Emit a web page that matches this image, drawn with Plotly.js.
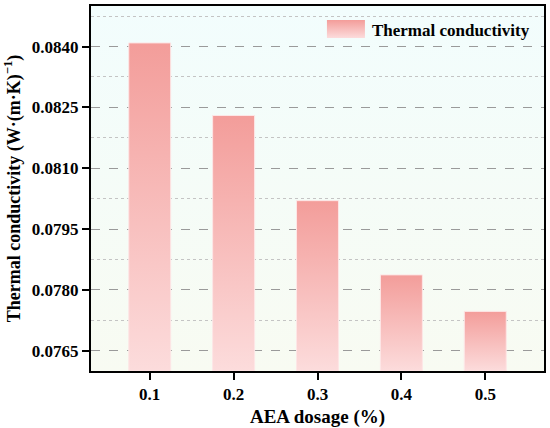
<!DOCTYPE html>
<html><head><meta charset="utf-8">
<script src="https://cdn.plot.ly/plotly-3.0.1.min.js"></script>
<style>body{margin:0;background:#fff}#chart{width:550px;height:428px}</style>
</head><body><div id="chart"></div>
<script>
// ---- data ----
const dosage = ['0.1', '0.2', '0.3', '0.4', '0.5'];
const conductivity = [0.08409, 0.08230, 0.08020, 0.07837, 0.07747];
const seriesName = 'Thermal conductivity';
const yMin = 0.0760, yMax = 0.0850;
const xTitle = 'AEA dosage (%)';
const yTitle = 'Thermal conductivity (W·(m·K)<sup>−1</sup>)';

const FONT = 'Liberation Serif, Times New Roman, serif';

const trace = {
  type: 'bar',
  x: dosage,
  y: conductivity.map(v => v - yMin),
  base: yMin,
  name: seriesName,
  width: 0.5,
  showlegend: true,
  hoverinfo: 'skip',
  marker: {color: '#f7b7b6', line: {color: '#fde6e6', width: 1}}
};

const layout = {
  width: 550, height: 428,
  margin: {l: 91, r: 6, t: 6, b: 57},
  paper_bgcolor: '#ffffff',
  plot_bgcolor: '#f6fcf8',
  font: {family: FONT, color: '#000', size: 17},
  showlegend: true,
  legend: {
    x: 0.980, y: 0.985, xanchor: 'right', yanchor: 'top',
    bgcolor: 'rgba(0,0,0,0)', borderwidth: 0,
    font: {family: FONT, size: 17, weight: 'bold', color: '#000'},
    itemwidth: 40
  },
  xaxis: {
    type: 'category',
    range: [-0.7, 4.7],
    showline: true, linecolor: '#000', linewidth: 2, mirror: true,
    ticks: 'outside', ticklen: 7, tickwidth: 2, tickcolor: '#000',
    showgrid: false, zeroline: false,
    tickfont: {family: FONT, size: 17, weight: 'bold'},
    title: {text: xTitle, font: {family: FONT, size: 19, weight: 'bold'}, standoff: 9}
  },
  yaxis: {
    range: [yMin, yMax],
    tick0: 0.0765, dtick: 0.0015, tickformat: '.4f',
    showline: true, linecolor: '#000', linewidth: 2, mirror: true,
    ticks: 'outside', ticklen: 7, tickwidth: 2, tickcolor: '#000',
    showgrid: true, gridcolor: '#9a9a9a', gridwidth: 1, griddash: 'dash',
    zeroline: false,
    minor: {dtick: 0.0015, tick0: 0.00075, showgrid: true, gridcolor: '#c4c4c4', gridwidth: 1, griddash: 'dot', ticks: ''},
    tickfont: {family: FONT, size: 17, weight: 'bold'},
    title: {text: yTitle, font: {family: FONT, size: 18, weight: 'bold'}, standoff: 7}
  }
};

Plotly.newPlot('chart', [trace], layout, {displayModeBar: false, staticPlot: true}).then(gd => {
  const svg = gd.querySelector('svg.main-svg');
  const NS = 'http://www.w3.org/2000/svg';
  let defs = svg.querySelector('defs');
  if (!defs) { defs = document.createElementNS(NS, 'defs'); svg.insertBefore(defs, svg.firstChild); }
  function grad(id, c1, c2) {
    const g = document.createElementNS(NS, 'linearGradient');
    g.setAttribute('id', id);
    g.setAttribute('x1', '0'); g.setAttribute('y1', '0');
    g.setAttribute('x2', '0'); g.setAttribute('y2', '1');
    [[0, c1], [1, c2]].forEach(([o, c]) => {
      const s = document.createElementNS(NS, 'stop');
      s.setAttribute('offset', o); s.setAttribute('stop-color', c);
      g.appendChild(s);
    });
    defs.appendChild(g);
  }
  grad('barGrad', '#f39d9a', '#fcdcdc');
  grad('bgGrad', '#f2fdfd', '#f8fbf2');
  gd.querySelectorAll('.bars .point path').forEach(p => { p.style.fill = 'url(#barGrad)'; });
  const bg = gd.querySelector('.bglayer rect.bg');
  if (bg) bg.style.fill = 'url(#bgGrad)';
  gd.querySelectorAll('.legendpoints path').forEach(p => {
    p.setAttribute('d', 'M-20,-9H18V9H-20Z');
    p.style.fill = 'url(#barGrad)';
    p.style.stroke = 'none';
  });
});
</script>
</body></html>
